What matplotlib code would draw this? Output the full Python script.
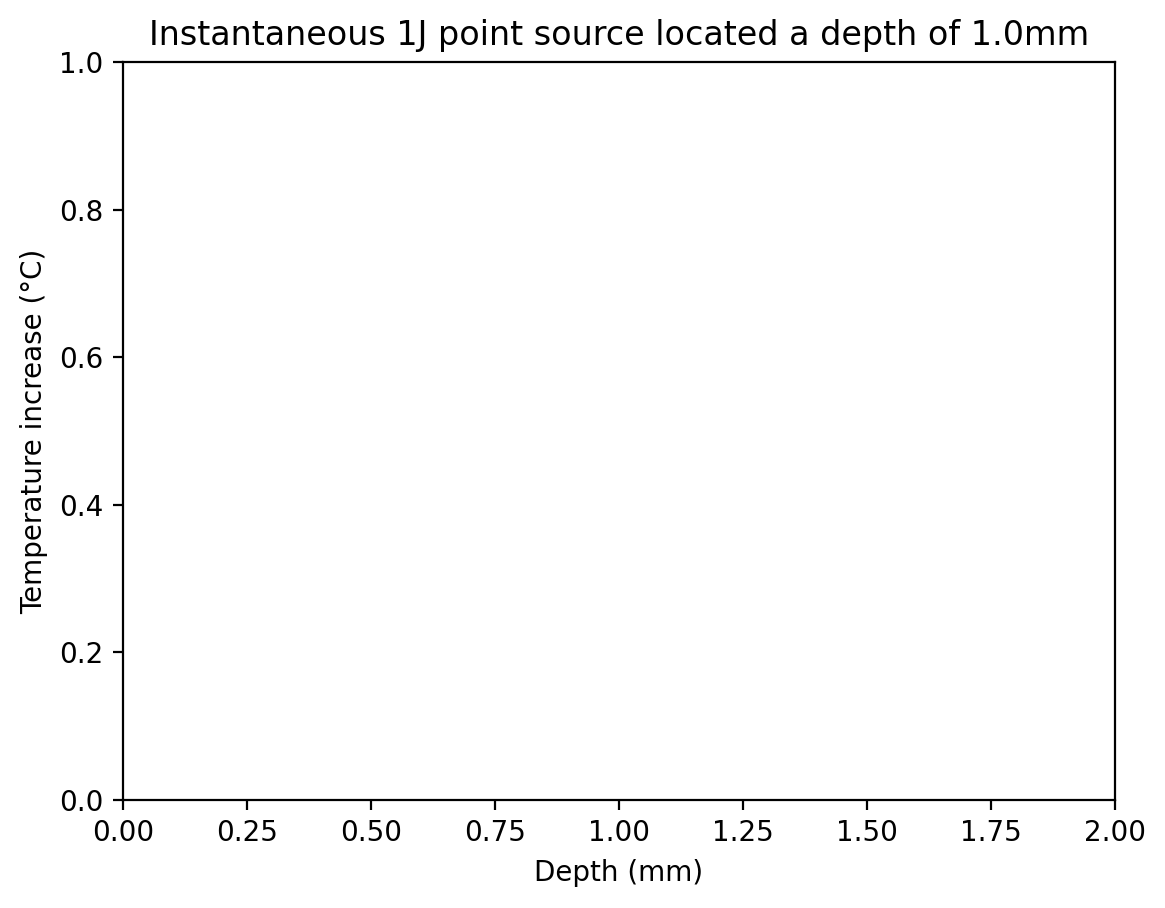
import matplotlib
matplotlib.use("Agg")
import matplotlib.pyplot as plt

# Data (the reference chart has no plotted marks)
depth_mm = []
temperature_increase = []
x_ticks = [0.0, 0.25, 0.5, 0.75, 1.0, 1.25, 1.5, 1.75, 2.0]
x_tick_labels = ["0.00", "0.25", "0.50", "0.75", "1.00", "1.25", "1.50", "1.75", "2.00"]
y_ticks = [0.0, 0.2, 0.4, 0.6, 0.8, 1.0]
y_tick_labels = ["0.0", "0.2", "0.4", "0.6", "0.8", "1.0"]

W, H, DPI = 1165, 908, 200
fig = plt.figure(figsize=(W / DPI, H / DPI), dpi=DPI)
ax = fig.add_axes([123 / W, (H - 800) / H, 992 / W, 738 / H])

ax.plot(depth_mm, temperature_increase)
ax.set_xlim(0, 2)
ax.set_ylim(0, 1)
ax.set_xticks(x_ticks)
ax.set_xticklabels(x_tick_labels)
ax.set_yticks(y_ticks)
ax.set_yticklabels(y_tick_labels)
ax.set_xlabel("Depth (mm)")
ax.set_ylabel("Temperature increase (°C)")
ax.set_title("Instantaneous 1J point source located a depth of 1.0mm")

fig.savefig("out.png", dpi=DPI)
